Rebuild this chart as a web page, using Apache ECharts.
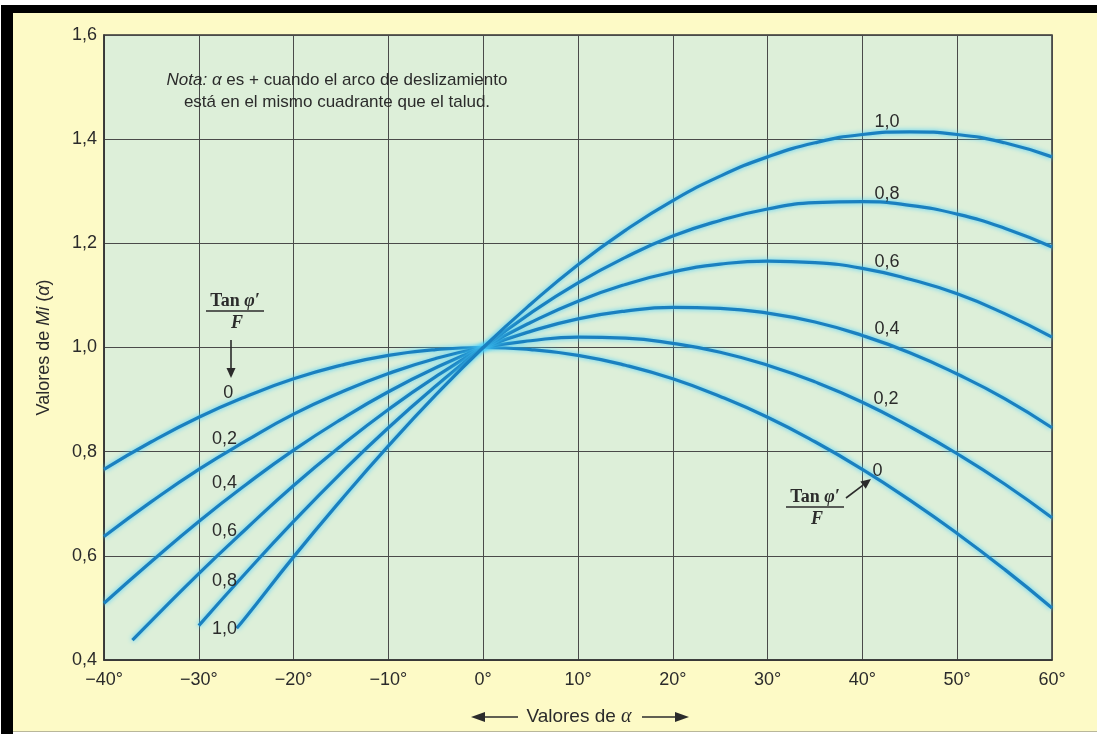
<!DOCTYPE html>
<html><head><meta charset="utf-8">
<script src="https://cdn.jsdelivr.net/npm/echarts@6/dist/echarts.min.js"></script>
<style>html,body{margin:0;padding:0;background:#fff}#c{width:1097px;height:734px}</style>
</head><body><div id="c"></div>
<script>
// ---- data ----
const xTicks = [-40,-30,-20,-10,0,10,20,30,40,50,60];
const yTicks = [0.4,0.6,0.8,1.0,1.2,1.4,1.6];
const curveNames = ['0','0,2','0,4','0,6','0,8','1,0'];

const alphaFull = [-40,-35,-30,-25,-20,-15,-10,-5,0,5,10,15,20,25,30,35,40,45,50,55,60];
const mi_00 = [0.766,0.819,0.866,0.906,0.940,0.966,0.985,0.996,1.000,0.996,0.985,0.966,0.940,0.906,0.866,0.819,0.766,0.707,0.643,0.574,0.500];
const mi_02 = [0.637,0.704,0.766,0.821,0.872,0.914,0.950,0.979,1.000,1.013,1.020,1.018,1.008,0.991,0.966,0.934,0.895,0.848,0.796,0.738,0.673];
const mi_04 = [0.509,0.589,0.666,0.737,0.803,0.862,0.915,0.961,1.000,1.031,1.055,1.070,1.077,1.075,1.066,1.049,1.023,0.990,0.949,0.902,0.846];
const alpha06 = [-37,-35,-30,-25,-20,-15,-10,-5,0,5,10,15,20,25,30,35,40,45,50,55,60];
const mi_06 = [0.438,0.475,0.566,0.652,0.735,0.811,0.881,0.944,1.000,1.048,1.089,1.121,1.145,1.160,1.166,1.163,1.152,1.131,1.103,1.065,1.020];
const alpha08 = [-30,-25,-20,-15,-10,-5,0,5,10,15,20,25,30,35,40,45,50,55,60];
const mi_08 = [0.466,0.568,0.666,0.759,0.846,0.926,1.000,1.066,1.124,1.173,1.214,1.244,1.266,1.278,1.280,1.273,1.256,1.229,1.193];
const alpha10 = [-26,-25,-20,-15,-10,-5,0,5,10,15,20,25,30,35,40,45,50,55,60];
const mi_10 = [0.461,0.483,0.598,0.707,0.811,0.909,1.000,1.083,1.159,1.225,1.282,1.329,1.366,1.393,1.409,1.414,1.409,1.393,1.366];

const curveX = [alphaFull, alphaFull, alphaFull, alpha06, alpha08, alpha10];
const curveY = [mi_00, mi_02, mi_04, mi_06, mi_08, mi_10];

// ---- chart ----
const FONT = '"Liberation Sans", Arial, sans-serif';
const SERIF = '"Liberation Serif", "Times New Roman", serif';
const TXT = '#2b2b2b';
const chart = echarts.init(document.getElementById('c'), null, {renderer: 'canvas'});

const series = curveNames.map((n, k) => ({
  name: n,
  type: 'line',
  smooth: true,
  symbol: 'none',
  data: curveX[k].map((x, i) => [x, curveY[k][i]]),
  lineStyle: {color: '#1a80c0', width: 3.2, shadowColor: 'rgba(70,205,250,1)', shadowBlur: 5},
  z: 3
}));

function fmtY(v){ return v.toFixed(1).replace('.', ','); }
function fmtX(v){ return (v < 0 ? '\u2212' + Math.abs(v) : String(v)) + '\u00b0'; }

chart.setOption({
  backgroundColor: '#fdfac6',
  animation: false,
  grid: {left: 104, right: 45, top: 35, bottom: 74, show: true, backgroundColor: '#ddefd9', borderColor: '#333', borderWidth: 1.5},
  xAxis: {
    type: 'value', min: xTicks[0], max: xTicks[xTicks.length-1], interval: 10,
    axisLine: {show: true, onZero: false, lineStyle: {color: '#333', width: 1.5}},
    axisTick: {show: false},
    splitLine: {show: true, lineStyle: {color: '#4a4a4a', width: 1}},
    axisLabel: {formatter: fmtX, color: TXT, fontFamily: FONT, fontSize: 18, margin: 11}
  },
  yAxis: {
    type: 'value', min: yTicks[0], max: yTicks[yTicks.length-1], interval: 0.2,
    axisLine: {show: true, onZero: false, lineStyle: {color: '#333', width: 1.5}},
    axisTick: {show: false},
    splitLine: {show: true, lineStyle: {color: '#4a4a4a', width: 1}},
    axisLabel: {formatter: fmtY, color: TXT, fontFamily: FONT, fontSize: 18, margin: 7},
    name: '{a|Valores de }{b|Mi}{a| (}{b|\u03b1}{a|)}',
    nameLocation: 'middle', nameRotate: 90, nameGap: 51,
    nameTextStyle: {rich: {
      a: {fontFamily: FONT, fontSize: 18, color: TXT},
      b: {fontFamily: FONT, fontSize: 18, color: TXT, fontStyle: 'italic'}
    }}
  },
  series: series
});

// ---- annotations ----
const rightLabelPos = [[41.6,0.763],[42.5,0.901],[42.6,1.035],[42.6,1.164],[42.6,1.295],[42.6,1.433]];
const leftLabelPos  = [[-26.9,0.913],[-27.3,0.824],[-27.3,0.740],[-27.3,0.648],[-27.3,0.552],[-27.3,0.459]];

const g = [];
// page frame
g.push({type:'rect', shape:{x:0,y:0,width:1097,height:5}, style:{fill:'#fff'}, z:10});
g.push({type:'rect', shape:{x:0,y:5,width:1097,height:8}, style:{fill:'#000'}, z:10});
g.push({type:'rect', shape:{x:0,y:0,width:1,height:734}, style:{fill:'#fff'}, z:10});
g.push({type:'rect', shape:{x:1,y:5,width:12,height:729}, style:{fill:'#000'}, z:10});
g.push({type:'rect', shape:{x:13,y:731,width:1084,height:1}, style:{fill:'#b9b79a'}, z:10});
g.push({type:'rect', shape:{x:13,y:732,width:1084,height:2}, style:{fill:'#fff'}, z:10});

function label(txt, pos, align){
  const p = chart.convertToPixel({gridIndex:0}, pos);
  g.push({type:'text', x:p[0], y:p[1], z:20,
    style:{text:txt, fill:TXT, font:'18px ' + FONT, align: align || 'center', verticalAlign:'middle'}});
}
curveNames.forEach((n,k) => { label(n, rightLabelPos[k]); label(n, leftLabelPos[k]); });

// note
const noteRich = {
  r: {fontFamily: FONT, fontSize: 17, fill: TXT, color: TXT},
  i: {fontFamily: FONT, fontSize: 17, fill: TXT, color: TXT, fontStyle: 'italic'}
};
g.push({type:'text', x:337, y:80, z:20, style:{text:'{i|Nota: \u03b1}{r| es + cuando el arco de deslizamiento}', rich: noteRich, align:'center', verticalAlign:'middle'}});
g.push({type:'text', x:337, y:102, z:20, style:{text:'{r|está en el mismo cuadrante que el talud.}', rich: noteRich, align:'center', verticalAlign:'middle'}});

// Tan phi / F fractions
function fraction(cx, top){
  g.push({type:'text', x:cx, y:top, z:20, style:{
    text:'{a|Tan }{b|\u03c6\u2032}', align:'center', verticalAlign:'top',
    rich:{a:{fontFamily:SERIF, fontSize:18, fontWeight:'bold', fill:TXT, color:TXT},
          b:{fontFamily:SERIF, fontSize:18, fontWeight:'bold', fontStyle:'italic', fill:TXT, color:TXT}}}});
  g.push({type:'line', z:20, shape:{x1:cx-29, y1:top+19, x2:cx+29, y2:top+19}, style:{stroke:TXT, lineWidth:1.5}});
  g.push({type:'text', x:cx+2, y:top+22, z:20, style:{text:'F', font:'italic bold 18px ' + SERIF, fill:TXT, align:'center', verticalAlign:'top'}});
}
function arrow(x1,y1,x2,y2,L,W){
  L = L || 10; W = W || 4.5;
  const a = Math.atan2(y2-y1, x2-x1);
  const bx = x2 - L*Math.cos(a), by = y2 - L*Math.sin(a);
  g.push({type:'line', z:20, shape:{x1:x1,y1:y1,x2:bx,y2:by}, style:{stroke:TXT, lineWidth:1.6}});
  g.push({type:'polygon', z:20, shape:{points:[[x2,y2],[bx - W*Math.sin(a), by + W*Math.cos(a)],[bx + W*Math.sin(a), by - W*Math.cos(a)]]}, style:{fill:TXT}});
}
fraction(235, 292);
arrow(231, 340, 231, 378);
fraction(815, 488);
arrow(846, 498, 871, 479);

// x axis title with arrows
g.push({type:'text', x:579, y:717, z:20, style:{
  text:'{a|Valores de }{b|\u03b1}', align:'center', verticalAlign:'middle',
  rich:{a:{fontFamily:FONT, fontSize:19, fill:TXT, color:TXT}, b:{fontFamily:SERIF, fontSize:20, fontStyle:'italic', fill:TXT, color:TXT}}}});
arrow(518, 717, 471, 717, 14, 5);
arrow(642, 717, 689, 717, 14, 5);

chart.setOption({graphic: {elements: g}});
</script></body></html>
